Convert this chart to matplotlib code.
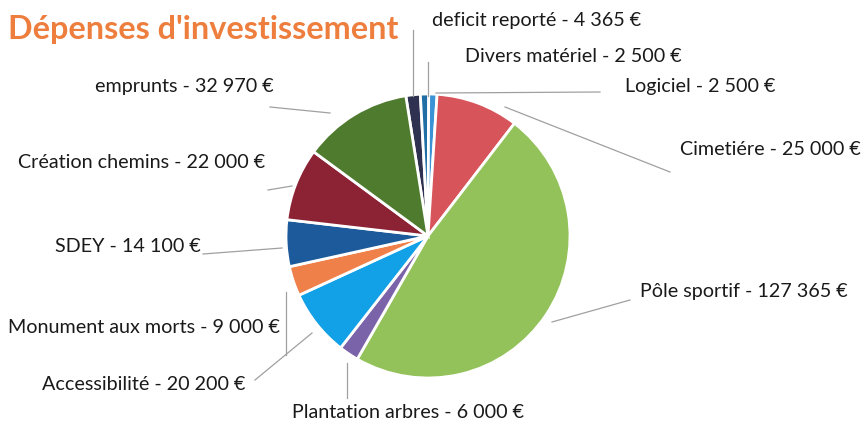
import matplotlib
matplotlib.use("Agg")
import matplotlib.pyplot as plt

# slices in clockwise order starting just left of 12 o'clock
labels = ["deficit reporté", "Divers matériel", "Logiciel", "Cimetiére", "Pôle sportif",
          "Plantation arbres", "Accessibilité", "Monument aux morts", "SDEY",
          "Création chemins", "emprunts"]
values = [4365, 2500, 2500, 25000, 127365, 6000, 20200, 9000, 14100, 22000, 32970]
colors = ["#2f3150", "#1f6ea6", "#3b93d6", "#d8545b", "#93c25b", "#7a63a9",
          "#12a0e6", "#f0804a", "#1d5a9b", "#8b2335", "#4f7b2f"]

W, H = 866, 421
plt.rcParams["font.family"] = ["Lato", "DejaVu Sans"]


def fmt(v):
    return f"{v:,}".replace(",", " ") + " €"


# label text anchor (px, left x / baseline y), leader line points (px)
label_pos = [
    (432, 26, [(413, 30), (413, 96)]),
    (465, 62, [(428, 62), (428, 96)]),
    (625, 92, [(600, 92), (436, 93)]),
    (680, 155, [(670, 172), (505, 107)]),
    (640, 297, [(630, 300), (552, 322)]),
    (292, 418, [(347, 398), (347, 363)]),
    (42, 390, [(255, 380), (312, 333)]),
    (8, 333, [(286, 355), (286, 292)]),
    (55, 252, [(203, 254), (282, 248)]),
    (18, 168, [(268, 190), (292, 186)]),
    (95, 92, [(270, 107), (330, 113)]),
]

fig = plt.figure(figsize=(W / 100, H / 100), dpi=100)
ax = fig.add_axes([0, 0, 1, 1])
cx, cy, r = 428, 236, 142
ax.pie(values, colors=colors, startangle=99, counterclock=False,
       center=(cx, H - cy), radius=r,
       wedgeprops=dict(edgecolor="white", linewidth=2))
ax.set_xlim(0, W)
ax.set_ylim(0, H)
ax.set_aspect("equal")
ax.axis("off")

for lab, v, (tx, ty, line) in zip(labels, values, label_pos):
    xs = [p[0] for p in line]
    ys = [H - p[1] for p in line]
    ax.plot(xs, ys, color="#a0a0a0", lw=0.9)
    ax.text(tx, H - ty, f"{lab} - {fmt(v)}", fontsize=14.2, color="#1a1a1a",
            ha="left", va="baseline")

ax.text(8, H - 39, "Dépenses d'investissement", fontsize=23.3, fontweight="bold",
        color="#ee7e3e", ha="left", va="baseline")

fig.savefig("out.png", dpi=100)
